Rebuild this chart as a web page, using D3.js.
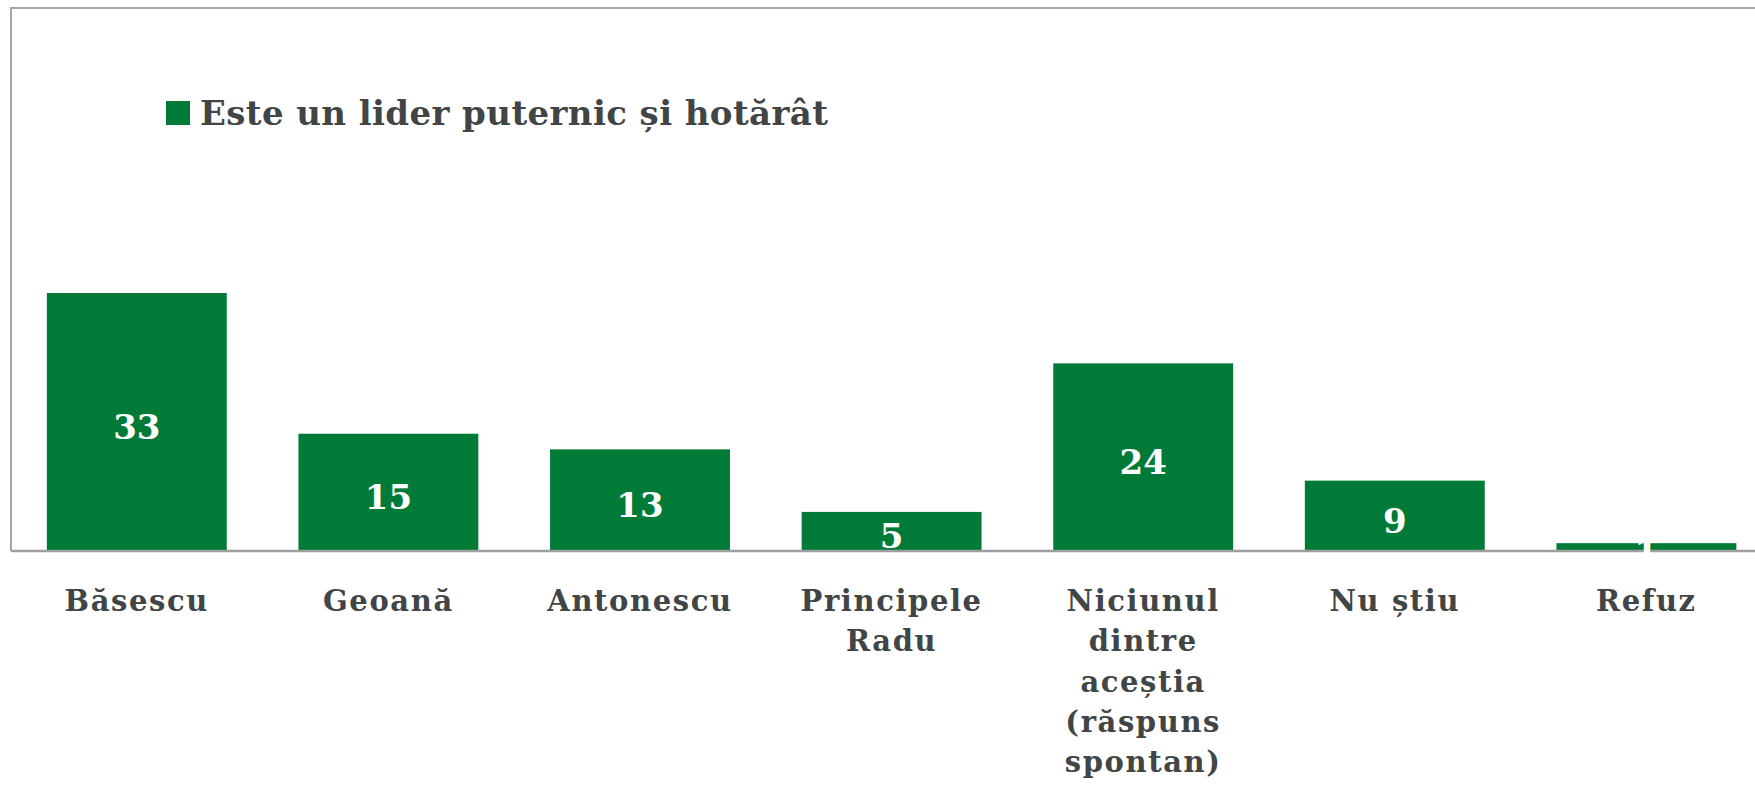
<!DOCTYPE html>
<html>
<head>
<meta charset="utf-8">
<script src="https://cdn.jsdelivr.net/npm/d3@7"></script>
<style>
  body { margin: 0; background: #fff; }
  svg { display: block; }
</style>
</head>
<body>
<svg></svg>
<script>
var categories = ["Băsescu", "Geoană", "Antonescu", "Principele Radu", "Niciunul dintre aceștia (răspuns spontan)", "Nu știu", "Refuz"];
var labelLines = [["Băsescu"], ["Geoană"], ["Antonescu"], ["Principele", "Radu"], ["Niciunul", "dintre", "aceștia", "(răspuns", "spontan)"], ["Nu știu"], ["Refuz"]];
var values = [33, 15, 13, 5, 24, 9, 1];
var seriesName = "Este un lider puternic și hotărât";

var width = 1755, height = 785;
var green = "#007a37", textColor = "#414546", lineColor = "#9e9e9e";
var font = "'DejaVu Serif', serif";

var svg = d3.select("svg").attr("width", width).attr("height", height);

var x0 = 11, axisY = 551;
var x = d3.scaleBand()
    .domain(categories)
    .range([x0, x0 + 7 * 251.6])
    .paddingInner(0.285)
    .paddingOuter(0.1425);
var y = d3.scaleLinear().domain([0, 33]).range([axisY, 293]);

// frame (top + left), axis at bottom
svg.append("path")
    .attr("d", "M" + x0 + "," + axisY + "V8H" + width)
    .attr("fill", "none")
    .attr("stroke", "#a6a6a6")
    .attr("stroke-width", 2);

var bars = svg.append("g").selectAll("rect")
    .data(values)
    .enter().append("rect")
    .attr("x", function (d, i) { return x(categories[i]); })
    .attr("y", function (d) { return y(d); })
    .attr("width", x.bandwidth())
    .attr("height", function (d) { return axisY - y(d); })
    .attr("fill", green);

svg.append("line")
    .attr("x1", x0).attr("x2", width)
    .attr("y1", axisY).attr("y2", axisY)
    .attr("stroke", lineColor)
    .attr("stroke-width", 2.5);

svg.append("g").selectAll("text")
    .data(values)
    .enter().append("text")
    .attr("x", function (d, i) { return x(categories[i]) + x.bandwidth() / 2; })
    .attr("y", function (d) { return (y(d) + axisY) / 2 + 5; })
    .attr("text-anchor", "middle")
    .attr("dominant-baseline", "central")
    .attr("font-family", font)
    .attr("font-weight", "bold")
    .attr("font-size", 34)
    .attr("fill", "#fff")
    .text(function (d) { return d; });

// category labels
var lab = svg.append("g").selectAll("text")
    .data(labelLines)
    .enter().append("text")
    .attr("text-anchor", "middle")
    .attr("font-family", font)
    .attr("font-weight", "bold")
    .attr("font-size", 29)
    .attr("letter-spacing", 1.6)
    .attr("fill", textColor);
lab.each(function (lines, i) {
    var t = d3.select(this);
    lines.forEach(function (l, j) {
        t.append("tspan")
            .attr("x", x(categories[i]) + x.bandwidth() / 2)
            .attr("y", 611 + j * 40.3)
            .text(l);
    });
});

// legend
var leg = svg.append("g");
leg.append("rect")
    .attr("x", 166).attr("y", 101)
    .attr("width", 24).attr("height", 24)
    .attr("fill", green);
leg.append("text")
    .attr("x", 200).attr("y", 125)
    .attr("font-family", font)
    .attr("font-weight", "bold")
    .attr("font-size", 34)
    .attr("letter-spacing", 0.4)
    .attr("fill", textColor)
    .text(seriesName);
</script>
</body>
</html>
